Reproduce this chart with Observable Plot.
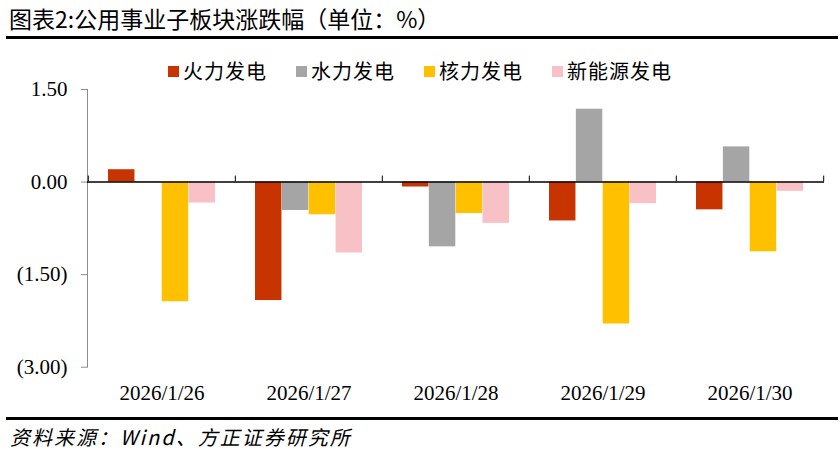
<!DOCTYPE html>
<html><head><meta charset="utf-8">
<script src="https://cdn.jsdelivr.net/npm/d3@7"></script>
<script src="https://cdn.jsdelivr.net/npm/@observablehq/plot@0.6"></script>
<style>
body{margin:0;background:#fff;width:840px;height:454px;position:relative;overflow:hidden;font-family:"Noto Sans CJK SC",sans-serif;color:#000}
#title{position:absolute;left:9px;top:2px;font-size:23px;white-space:nowrap;line-height:32px}
.rule{position:absolute;left:6px;width:832px;height:3px;background:#000}
#legend{position:absolute;top:56px;left:168px;display:flex;align-items:center;font-size:20px;line-height:30px;letter-spacing:1px;white-space:nowrap;z-index:2}
#legend .item{display:flex;align-items:center;margin-right:29px}
#legend .sw{width:11px;height:11px;margin-right:4px}
#chart{position:absolute;left:0;top:70px}
#source{position:absolute;left:10px;top:422px;font-style:italic;font-size:20px;letter-spacing:2px;line-height:30px;white-space:nowrap}
</style></head>
<body>
<div id="title">图表2:公用事业子板块涨跌幅（单位：%）</div>
<div class="rule" style="top:36px"></div>
<div id="chart"></div>
<div id="legend"></div>
<div class="rule" style="top:417px"></div>
<div id="source">资料来源：Wind、方正证券研究所</div>
<script>
const dates = ["2026/1/26","2026/1/27","2026/1/28","2026/1/29","2026/1/30"];
const seriesNames = ["火力发电","水力发电","核力发电","新能源发电"];
const seriesColors = ["#C83400","#A5A5A5","#FFC000","#F8C1C6"];
const thermal = [0.20,-1.92,-0.08,-0.63,-0.45];
const hydro = [0.01,-0.46,-1.05,1.18,0.57];
const nuclear = [-1.94,-0.53,-0.51,-2.30,-1.13];
const renewable = [-0.34,-1.15,-0.67,-0.35,-0.15];
const yTicks = [1.5,0,-1.5,-3];

const seriesValues = [thermal, hydro, nuclear, renewable];

// legend
const legend = document.getElementById("legend");
seriesNames.forEach((n,i)=>{
  const it = document.createElement("div"); it.className="item";
  const sw = document.createElement("div"); sw.className="sw"; sw.style.background=seriesColors[i];
  const tx = document.createElement("span"); tx.textContent=n;
  it.appendChild(sw); it.appendChild(tx); legend.appendChild(it);
});

const W = 840, H = 340, ml = 87, mr = 16, mt = 19, mb = 43.3;
const band = (W - ml - mr) / dates.length;
const groupPad = 20;
const barW = (band - 2*groupPad) / seriesNames.length;

const fmt = d => d < 0 ? `(${Math.abs(d).toFixed(2)})` : d.toFixed(2);

const marks = [];
seriesValues.forEach((vals,i)=>{
  const data = dates.map((d,j)=>({date:d, value:vals[j], series:seriesNames[i]}));
  marks.push(Plot.barY(data, {
    x:"date", y:"value", fill: seriesColors[i],
    insetLeft: groupPad + i*barW,
    insetRight: band - groupPad - (i+1)*barW
  }));
});
marks.push(Plot.frame({anchor:"left", stroke:"#8c8c8c"}));
marks.push(Plot.ruleY([0], {stroke:"#000", strokeWidth:1.5}));
marks.push(Plot.ruleX(dates, {x:d=>d, dx:-band/2, y1:0, y2:0, insetTop:-6, stroke:"#000"}));
marks.push(Plot.ruleX([dates[dates.length-1]], {x:d=>d, dx:band/2, y1:0, y2:0, insetTop:-6, stroke:"#000"}));
marks.push(Plot.axisY({ticks:yTicks, tickFormat:fmt, tickSize:6, tickPadding:14, stroke:"#8c8c8c", fill:"#000", fontSize:21, fontFamily:"Liberation Serif"}));
marks.push(Plot.axisX({tickSize:0, tickPadding:18, fill:"#000", fontSize:21, fontFamily:"Liberation Serif"}));

const chart = Plot.plot({
  width:W, height:H, marginLeft:ml, marginRight:mr, marginTop:mt, marginBottom:mb,
  style:{fontFamily:"Liberation Serif", fontSize:"21px", background:"transparent", color:"#000"},
  x:{type:"band", domain:dates, padding:0, label:null},
  y:{domain:[-3,1.5], nice:false, label:null},
  marks
});
document.getElementById("chart").appendChild(chart);
</script>
</body></html>
